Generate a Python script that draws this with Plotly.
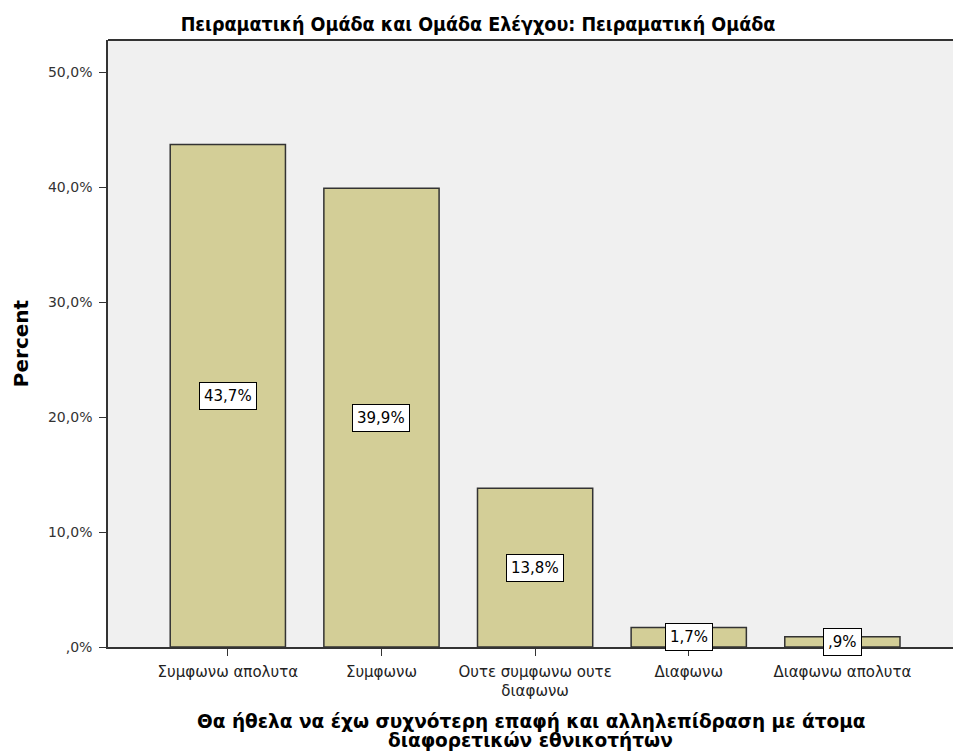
import plotly.graph_objects as go

# categories and values
categories = ["Συμφωνω απολυτα", "Συμφωνω", "Ουτε συμφωνω ουτε<br>διαφωνω", "Διαφωνω", "Διαφωνω απολυτα"]
percents = [43.7, 39.9, 13.8, 1.7, 0.9]
value_labels = ["43,7%", "39,9%", "13,8%", "1,7%", ",9%"]
y_ticks = [0, 10, 20, 30, 40, 50]
y_tick_labels = [",0%", "10,0%", "20,0%", "30,0%", "40,0%", "50,0%"]
x_title_lines = ["Θα ήθελα να έχω συχνότερη επαφή και αλληλεπίδραση με άτομα",
                 "διαφορετικών εθνικοτήτων"]

W, H = 953, 755

fig = go.Figure(data=go.Bar(
    x=categories, y=percents,
    marker=dict(color="#D3CE97", line=dict(color="#333333", width=1.5)),
    width=0.75,
))

# value labels sit in the middle of each bar
for cat, val, lab in zip(categories, percents, value_labels):
    fig.add_annotation(
        x=cat, y=val / 2, text=lab, showarrow=False,
        font=dict(family="DejaVu Sans", size=15, color="black"),
        bgcolor="white", bordercolor="black", borderwidth=1, borderpad=4,
    )

# x axis title, two lines set tighter than plotly's own line height
for i, line in enumerate(x_title_lines):
    fig.add_annotation(
        xref="paper", yref="paper", x=0.5, y=0, yanchor="middle",
        yshift=-74 - 19 * i, text="<b>" + line + "</b>", showarrow=False,
        font=dict(family="DejaVu Sans", size=18.5, color="black"),
    )

fig.update_layout(
    width=W, height=H,
    margin=dict(l=108, r=0, t=40, b=108),
    paper_bgcolor="white",
    plot_bgcolor="#F0F0F0",
    showlegend=False,
    title=dict(
        text="<b>Πειραματική Ομάδα και Ομάδα Ελέγχου: Πειραματική Ομάδα</b>",
        x=478 / W, xanchor="center", xref="container",
        y=1 - 24 / H, yanchor="middle", yref="container",
        font=dict(family="DejaVu Sans Condensed, Liberation Sans", size=19.5, color="black"),
    ),
    xaxis=dict(
        range=[-0.78, 4.72],
        showline=True, linecolor="#333333", linewidth=1.5, mirror=False,
        ticks="outside", ticklen=7, tickcolor="#333333",
        ticklabelstandoff=3,
        tickfont=dict(family="DejaVu Sans", size=15, color="#222"),
        showgrid=False,
    ),
    yaxis=dict(
        range=[0, 52.8],
        tickvals=y_ticks, ticktext=y_tick_labels,
        showline=True, linecolor="#333333", linewidth=1.5,
        ticks="outside", ticklen=7, tickcolor="#333333",
        ticklabelstandoff=4,
        tickfont=dict(family="DejaVu Sans", size=14, color="#333"),
        showgrid=False, zeroline=False,
        title=dict(
            text="<b>Percent</b>",
            font=dict(family="DejaVu Sans", size=20, color="black"),
            standoff=14,
        ),
    ),
)

# top border of the plot area
fig.add_shape(type="line", xref="paper", yref="paper", x0=0, x1=1, y0=1, y1=1,
              line=dict(color="#333333", width=2))

# drop the default body margin so the figure fills the window exactly
fig.write_html("out.html", config={"displayModeBar": False},
               post_script="document.body.style.margin='0';document.body.style.overflow='hidden';")
